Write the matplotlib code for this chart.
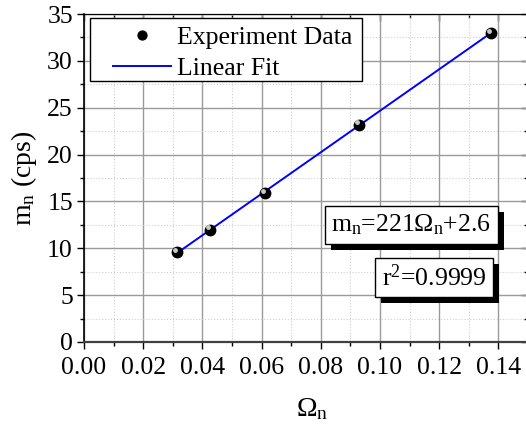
#m_n versus Omega_n with linear fit

#import libraries
import numpy as np
import matplotlib
matplotlib.use("Agg")
import matplotlib.pyplot as plt
import matplotlib.transforms as mtrans
from matplotlib import patheffects as pe
from matplotlib.patches import Rectangle
from matplotlib.ticker import MultipleLocator, FormatStrFormatter

plt.rcParams["font.family"] = ["Liberation Serif", "DejaVu Serif"]
plt.rcParams["mathtext.fontset"] = "custom"
plt.rcParams["mathtext.rm"] = "Liberation Serif"
plt.rcParams["mathtext.it"] = "Liberation Serif"

#data
omega_n = [0.0315, 0.0427, 0.0613, 0.0929, 0.1376]
m_n = [9.6, 12.0, 15.9, 23.2, 33.0]

x_ticks = [0.00, 0.02, 0.04, 0.06, 0.08, 0.10, 0.12, 0.14]
y_ticks = [0, 5, 10, 15, 20, 25, 30, 35]

#linear fit
slope, intercept = np.polyfit(omega_n, m_n, 1)
fit_x = np.array([omega_n[0], omega_n[-1]])
fit_y = slope * fit_x + intercept

W, H = 526, 434
FS = 18.5

#plot graph
fig = plt.figure(figsize=(W / 100, H / 100), dpi=100)
ax = fig.add_axes([84 / W, 1 - 342 / H, 444 / W, 328 / H])

line, = ax.plot(fit_x, fit_y, color="#0000ff", lw=1.4, zorder=3)
dots, = ax.plot(omega_n, m_n, "o", color="black", ms=7.5, ls="none", zorder=4)
#little highlight on the spheres
shift = mtrans.ScaledTranslation(-1.6 / 72, 1.6 / 72, fig.dpi_scale_trans)
ax.plot(omega_n, m_n, "o", color="#c8c8c8", ms=2.5, ls="none",
        transform=ax.transData + shift, zorder=5)

ax.set_xlim(0, 0.15)
ax.set_ylim(0, 35)
ax.set_xticks(x_ticks)
ax.set_yticks(y_ticks)
ax.xaxis.set_major_formatter(FormatStrFormatter("%.2f"))
ax.xaxis.set_minor_locator(MultipleLocator(0.01))
ax.yaxis.set_minor_locator(MultipleLocator(2.5))

ax.grid(which="major", color="#9a9a9a", lw=1.0)
ax.grid(which="minor", color="#cfcfcf", lw=0.8, ls=":")
ax.set_axisbelow(True)

ax.tick_params(which="both", direction="out", labelsize=FS)
ax.tick_params(axis="x", pad=6)
ax.tick_params(axis="y", pad=3)
ax.tick_params(which="major", length=5, width=1)
ax.tick_params(which="minor", length=3, width=1)

#inward ticks on top and right
top = ax.secondary_xaxis("top")
top.set_xticks(x_ticks)
top.xaxis.set_minor_locator(MultipleLocator(0.01))
top.tick_params(which="both", direction="in", labeltop=False)
top.tick_params(which="major", length=5, width=1)
top.tick_params(which="minor", length=3, width=1)
right = ax.secondary_yaxis("right")
right.set_yticks(y_ticks)
right.yaxis.set_minor_locator(MultipleLocator(2.5))
right.tick_params(which="both", direction="in", labelright=False)
right.tick_params(which="major", length=5, width=1)
right.tick_params(which="minor", length=3, width=1)

ax.spines["left"].set_linewidth(1.2)
ax.spines["bottom"].set_linewidth(1.6)
ax.spines["bottom"].set_color("#404040")

ax.set_xlabel(r"$\Omega_{\mathrm{n}}$", fontsize=20)
ax.xaxis.set_label_coords((312 - 84) / 444, -(409 - 342) / 328)
ax.xaxis.label.set_va("center")
ax.set_ylabel(r"m$_{\mathrm{n}}$ (cps)", fontsize=20, labelpad=6)

#legend with its own frame
ax.add_patch(Rectangle((6 / 444, (342 - 81) / 328), 272 / 444, 63 / 328,
                       transform=ax.transAxes, fc="white", ec="black",
                       lw=1.0, zorder=6))
leg = ax.legend([dots, line], ["Experiment Data", "Linear Fit"],
                loc="upper left", bbox_to_anchor=(29 / 444, (342 - 26) / 328),
                fontsize=FS, frameon=False, borderaxespad=0, borderpad=0,
                handlelength=2.25, labelspacing=0.3, handletextpad=0.25,
                markerscale=0.85)
leg.set_zorder(7)

box = dict(boxstyle="square,pad=0.25", fc="white", ec="black", lw=1.0)
t1 = ax.text(0.1106, 12.5, r"m$_{\mathrm{n}}$=221$\Omega_{\mathrm{n}}$+2.6",
             fontsize=FS, ha="center", va="center", bbox=box, zorder=8)
t2 = ax.text(0.1182, 6.9, r"r$^{2}$=0.9999", fontsize=FS,
             ha="center", va="center", bbox=box, zorder=8)
for t in (t1, t2):
    t.get_bbox_patch().set_path_effects(
        [pe.SimplePatchShadow(offset=(4.5, -4.5), shadow_rgbFace="black", alpha=1.0),
         pe.Normal()])

fig.savefig("out.png", dpi=100)
